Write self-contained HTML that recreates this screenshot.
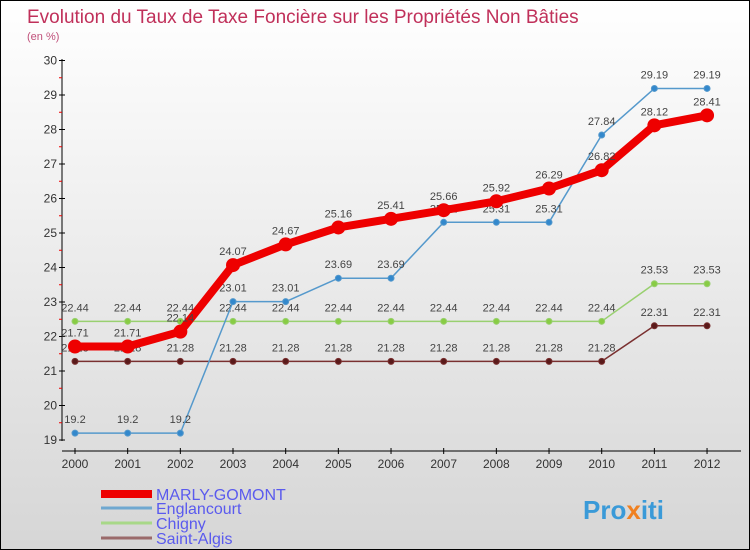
<!DOCTYPE html>
<html><head><meta charset="utf-8"><style>
html,body{margin:0;padding:0}
body{width:750px;height:550px;overflow:hidden;font-family:"Liberation Sans",sans-serif}
#wrap{position:relative;width:748px;height:548px;border:1px solid #000;background:linear-gradient(#ffffff,#d6d6d6)}
</style></head><body>
<div id="wrap">
<svg id="chart" width="748" height="548" style="position:absolute;left:0;top:0">
<text x="26" y="22" font-size="19" fill="#c0305a">Evolution du Taux de Taxe Foncière sur les Propriétés Non Bâties</text>
<text x="26" y="39" font-size="11" fill="#c0507a">(en %)</text>
<g id="axes"></g>
<g id="series"></g>
<g id="legend"></g>
<text x="582" y="518" font-size="26" font-weight="bold" fill="#3a9ad8">Pro<tspan fill="#f08020">x</tspan>iti</text>
</svg>
</div>
<script>
const years=[2000,2001,2002,2003,2004,2005,2006,2007,2008,2009,2010,2011,2012];
const marly=[21.71,21.71,22.14,24.07,24.67,25.16,25.41,25.66,25.92,26.29,26.82,28.12,28.41];
const englancourt=[19.2,19.2,19.2,23.01,23.01,23.69,23.69,25.31,25.31,25.31,27.84,29.19,29.19];
const chigny=[22.44,22.44,22.44,22.44,22.44,22.44,22.44,22.44,22.44,22.44,22.44,23.53,23.53];
const saintAlgis=[21.28,21.28,21.28,21.28,21.28,21.28,21.28,21.28,21.28,21.28,21.28,22.31,22.31];
const yTicks=[19,20,21,22,23,24,25,26,27,28,29,30];
const seriesNames=["MARLY-GOMONT","Englancourt","Chigny","Saint-Algis"];
const NS="http://www.w3.org/2000/svg";
function xS(i){return 74+i*52.67;}
function yS(v){return 439-(v-19)*34.5;}
function mk(t,a,p){const e=document.createElementNS(NS,t);for(const k in a)e.setAttribute(k,a[k]);p.appendChild(e);return e;}
const ax=document.getElementById('axes');
let l=mk('line',{x1:61,y1:58,x2:61,y2:440,stroke:'#000'},ax);


l=mk('line',{x1:61,y1:450,x2:740,y2:450,stroke:'#000'},ax);


yTicks.forEach(v=>{
 const y=yS(v);
 mk('line',{x1:58,y1:y,x2:64,y2:y,stroke:'#000'},ax);
 if(v<30)mk('line',{x1:58,y1:y-17.25,x2:61,y2:y-17.25,stroke:'#e00'},ax);
 const t=mk('text',{x:56,y:y+4,'font-size':12,'text-anchor':'end',fill:'#333'},ax);
 t.textContent=v;
 
 
});
years.forEach((yr,i)=>{
 const x=xS(i);
 mk('line',{x1:x,y1:447,x2:x,y2:453,stroke:'#000'},ax);
 const t=mk('text',{x:x,y:467,'font-size':12,'text-anchor':'middle',fill:'#333'},ax);
 t.textContent=yr;
 
 
});
const sg=document.getElementById('series');
function draw(vals,color,w,r,dot,name){
 const g=mk('g',{},sg);
 
 
 const p=mk('polyline',{points:vals.map((v,i)=>xS(i)+','+yS(v)).join(' '),fill:'none',stroke:color,'stroke-width':w,'stroke-linejoin':'round'},g);
 
 
 vals.forEach((v,i)=>{
  const c=mk('circle',{cx:xS(i),cy:yS(v),r:r,fill:dot,stroke:color,'stroke-width':1},g);
  
  
  const t=mk('text',{x:xS(i),y:yS(v)-10,'font-size':11,'text-anchor':'middle',fill:'#444'},g);
  t.textContent=v;
  
  
 });
}
draw(saintAlgis,'#7a3030',1.5,3,'#5a1a1a','saint-algis');
draw(chigny,'#99d070',1.5,3,'#88cc44','chigny');
draw(englancourt,'#5599cc',1.5,3,'#3388cc','englancourt');
draw(marly,'#ee0000',8,6.5,'#ee0000','marly-gomont');
const lg=document.getElementById('legend');
const lc=['#ee0000','#6fa8d0','#a8d888','#9a6a6a'],lw=[8,3,3,3],ly=[493,507,522,537];
seriesNames.forEach((n,i)=>{
 const ln=mk('line',{x1:100,y1:ly[i],x2:151,y2:ly[i],stroke:lc[i],'stroke-width':lw[i]},lg);
 
 
 const t=mk('text',{x:155,y:ly[i]+6,'font-size':16,fill:'#5a5aee'},lg);
 t.textContent=n;
 
 
});
</script>
</body></html>
